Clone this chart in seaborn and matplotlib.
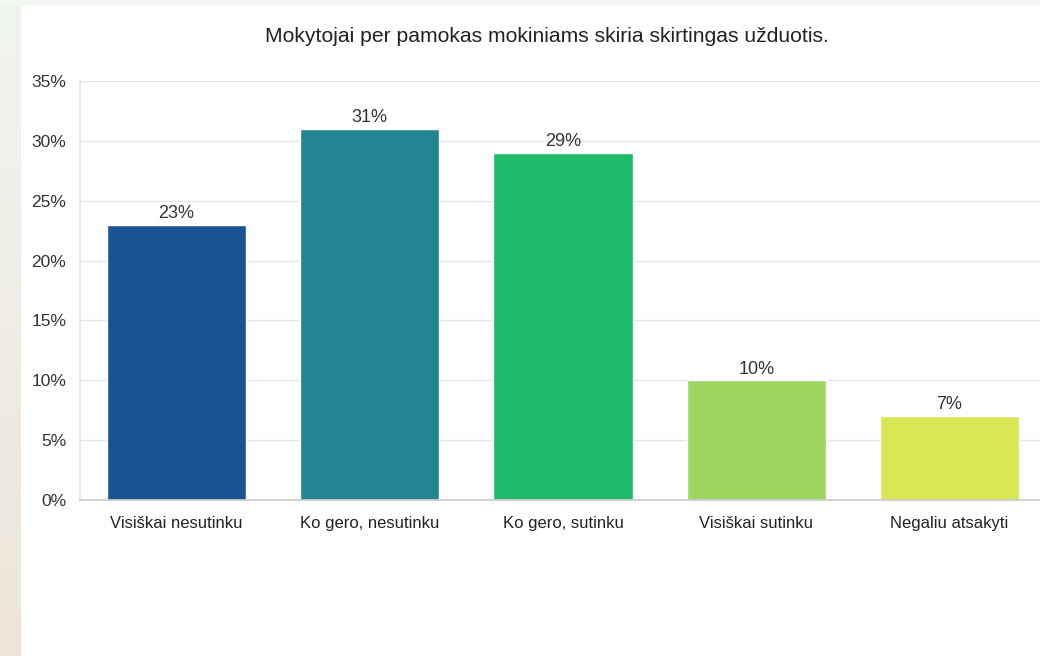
import matplotlib
matplotlib.use("Agg")

import numpy as np
import pandas as pd
import matplotlib.pyplot as plt
import seaborn as sns

title = "Mokytojai per pamokas mokiniams skiria skirtingas užduotis."
categories = ["Visiškai nesutinku", "Ko gero, nesutinku", "Ko gero, sutinku",
              "Visiškai sutinku", "Negaliu atsakyti"]
values = [23, 31, 29, 10, 7]
colors = ["#1a5394", "#238592", "#1fbb6b", "#9ed661", "#d9e852"]
y_ticks = [0, 5, 10, 15, 20, 25, 30, 35]

df = pd.DataFrame({"category": categories, "value": values})

sns.set_theme(style="white")
plt.rcParams["font.family"] = ["Liberation Sans", "DejaVu Sans"]

fig = plt.figure(figsize=(10.4, 6.56), dpi=100)
fig.patch.set_facecolor("white")

# background strips (left gradient, top band)
bg_left = fig.add_axes([0, 0, 21 / 1040, 1])
grad = np.linspace(0, 1, 256)[:, None]
top_c = np.array([241, 245, 240]) / 255
bot_c = np.array([237, 229, 217]) / 255
img = top_c[None, None, :] * (1 - grad[:, :, None]) + bot_c[None, None, :] * grad[:, :, None]
bg_left.imshow(img, aspect="auto", extent=[0, 1, 0, 1])
bg_left.axis("off")
bg_top = fig.add_axes([0, 1 - 6 / 656, 1, 6 / 656])
bg_top.set_facecolor("#f4f8f3")
bg_top.set_xticks([])
bg_top.set_yticks([])
for s in bg_top.spines.values():
    s.set_visible(False)

ax = fig.add_axes([80 / 1040, 156 / 656, 966 / 1040, 419 / 656])
sns.barplot(data=df, x="category", y="value", hue="category", palette=colors,
            width=0.72, legend=False, ax=ax, saturation=1)

ax.set_ylim(0, 35)
ax.set_xlim(-0.5, 4.5)
ax.set_yticks(y_ticks)
ax.set_yticklabels([f"{t}%" for t in y_ticks])
ax.yaxis.grid(True, color="#e6e6e6", linewidth=1)
ax.set_axisbelow(True)
ax.set_xlabel("")
ax.set_ylabel("")
for side in ["top", "right"]:
    ax.spines[side].set_visible(False)
ax.spines["left"].set_color("#e6e6e6")
ax.spines["bottom"].set_color("#cccccc")
ax.tick_params(axis="y", length=9.4, color="#e6e6e6", labelsize=12.5,
               labelcolor="#333333", pad=0.5)
ax.tick_params(axis="x", length=0, labelsize=12, labelcolor="#222222", pad=11.5)

for c in ax.containers:
    ax.bar_label(c, labels=[f"{v:.0f}%" for v in c.datavalues], padding=2,
                 fontsize=13, color="#333333")

fig.text(0.526, 1 - 36 / 656, title, ha="center", va="center",
         fontsize=15.2, color="#222222")

fig.savefig("out.png", dpi=100)
